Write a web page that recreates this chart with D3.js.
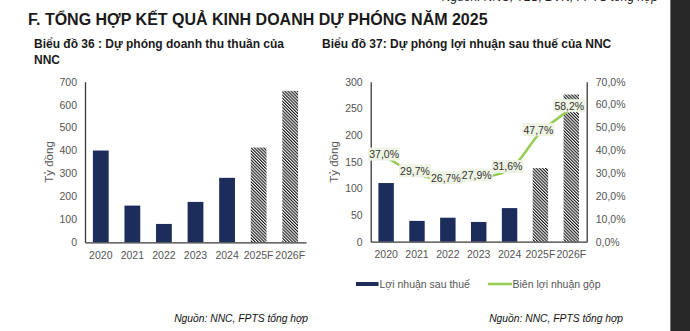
<!DOCTYPE html>
<html>
<head>
<meta charset="utf-8">
<script src="https://cdn.jsdelivr.net/npm/d3@7"></script>
<style>
  html, body { margin: 0; padding: 0; background: #fff; }
  svg { display: block; font-family: "Liberation Sans", Arial, sans-serif; }
</style>
</head>
<body>
<svg id="page" width="690" height="331"></svg>
<script>
// years shared by both charts
const years = ['2020', '2021', '2022', '2023', '2024', '2025F', '2026F'];
const forecastYears = ['2025F', '2026F'];

// Biểu đồ 36 – doanh thu thuần (tỷ đồng)
const revenue = [400, 160, 80, 176, 281, 413, 660];
const revenueTicks = [0, 100, 200, 300, 400, 500, 600, 700];

// Biểu đồ 37 – lợi nhuận sau thuế (tỷ đồng) and biên lợi nhuận gộp (%)
const netProfit = [110, 39, 45, 37, 63, 138, 276];
const grossMargin = [37.0, 29.7, 26.7, 27.9, 31.6, 47.7, 58.2];
const profitTicks = [0, 50, 100, 150, 200, 250, 300];
const marginTicks = [0, 10, 20, 30, 40, 50, 60, 70];

const navy = '#1c2d5c';
const green = '#98cd58';
const axisColor = '#3a3a3a';
const labelColor = '#555';

const svg = d3.select('#page');
const fmt = v => v.toFixed(1).replace('.', ',') + '%';

// hatch for forecast bars (\\\ stripes)
const defs = svg.append('defs');
const hatch = defs.append('pattern')
    .attr('id', 'hatch')
    .attr('patternUnits', 'userSpaceOnUse')
    .attr('width', 2.2)
    .attr('height', 2.2)
    .attr('patternTransform', 'rotate(-45)');
hatch.append('rect').attr('width', 2.2).attr('height', 2.2).attr('fill', '#fff');
hatch.append('rect').attr('x', 0).attr('width', 1.1).attr('height', 2.2).attr('fill', '#111');

// cut-off source line from previous section
svg.append('text')
    .attr('x', 442).attr('y', 1)
    .attr('font-size', 12).attr('font-style', 'italic').attr('fill', '#222')
    .text('Nguồn: NNC, TLS, BVN, FPTS tổng hợp');

// section heading
svg.append('text')
    .attr('x', 28).attr('y', 25)
    .attr('font-size', 16).attr('font-weight', 'bold').attr('fill', '#1a1a1a')
    .text('F. TỔNG HỢP KẾT QUẢ KINH DOANH DỰ PHÓNG NĂM 2025');

// chart titles
const title36 = svg.append('text')
    .attr('font-size', 12).attr('font-weight', 'bold').attr('fill', '#1a1a1a');
title36.append('tspan').attr('x', 34).attr('y', 48).text('Biểu đồ 36 : Dự phóng doanh thu thuần của');
title36.append('tspan').attr('x', 34).attr('y', 64).text('NNC');

svg.append('text')
    .attr('x', 322).attr('y', 48)
    .attr('font-size', 12).attr('font-weight', 'bold').attr('fill', '#1a1a1a')
    .text('Biểu đồ 37: Dự phóng lợi nhuận sau thuế của NNC');

function styleAxis(g) {
    g.selectAll('.domain').attr('stroke', axisColor).attr('stroke-width', 1.3);
    g.selectAll('text').attr('fill', labelColor).attr('font-size', 10.5)
        .attr('font-family', '"Liberation Sans", Arial, sans-serif');
}

function drawBars(g, x, y, values) {
    g.selectAll('.bar')
        .data(years.map((yr, i) => ({ yr, v: values[i] })))
        .enter()
        .append('rect')
        .attr('class', 'bar')
        .attr('x', d => x(d.yr))
        .attr('width', x.bandwidth())
        .attr('y', d => y(d.v))
        .attr('height', d => y(0) - y(d.v))
        .attr('fill', d => forecastYears.includes(d.yr) ? 'url(#hatch)' : navy);
}

function yTitle(cx, cy) {
    svg.append('text')
        .attr('transform', `translate(${cx},${cy}) rotate(-90)`)
        .attr('text-anchor', 'middle')
        .attr('dominant-baseline', 'middle')
        .attr('font-size', 11.5).attr('fill', labelColor)
        .text('Tỷ đồng');
}

// ---- Biểu đồ 36 ----
{
    const x = d3.scaleBand().domain(years).range([85, 306]).paddingInner(0.5).paddingOuter(0.25);
    const y = d3.scaleLinear().domain([0, 700]).range([242.3, 81.7]);
    const g = svg.append('g');

    drawBars(g, x, y, revenue);

    g.append('g').attr('transform', `translate(85,0)`)
        .call(d3.axisLeft(y).tickValues(revenueTicks).tickSize(0).tickPadding(8))
        .call(styleAxis);
    g.append('g').attr('transform', `translate(0,${y(0)})`)
        .call(d3.axisBottom(x).tickSize(0).tickPadding(9))
        .call(styleAxis);

    yTitle(50, 162);

    svg.append('text')
        .attr('x', 308).attr('y', 322).attr('text-anchor', 'end')
        .attr('font-size', 10.3).attr('font-style', 'italic').attr('fill', '#111')
        .text('Nguồn: NNC, FPTS tổng hợp');
}

// ---- Biểu đồ 37 ----
{
    const x = d3.scaleBand().domain(years).range([370.7, 586.7]).paddingInner(0.5).paddingOuter(0.25);
    const y = d3.scaleLinear().domain([0, 300]).range([241.7, 81.7]);
    const y2 = d3.scaleLinear().domain([0, 70]).range([241.7, 81.7]);
    const g = svg.append('g');

    drawBars(g, x, y, netProfit);

    g.append('g').attr('transform', `translate(370.7,0)`)
        .call(d3.axisLeft(y).tickValues(profitTicks).tickSize(0).tickPadding(8))
        .call(styleAxis);
    g.append('g').attr('transform', `translate(586.7,0)`)
        .call(d3.axisRight(y2).tickValues(marginTicks).tickSize(0).tickPadding(9).tickFormat(fmt))
        .call(styleAxis);
    g.append('g').attr('transform', `translate(0,${y(0)})`)
        .call(d3.axisBottom(x).tickSize(0).tickPadding(9))
        .call(styleAxis);

    yTitle(335, 162);

    // gross margin line
    const pts = years.map((yr, i) => ({ x: x(yr) + x.bandwidth() / 2, y: y2(grossMargin[i]), v: grossMargin[i] }));
    const line = d3.line().x(d => d.x).y(d => d.y).curve(d3.curveCatmullRom.alpha(0.5));
    g.append('path')
        .attr('d', line(pts))
        .attr('fill', 'none')
        .attr('stroke', green)
        .attr('stroke-width', 2.6);

    // value labels on pale boxes
    const labels = g.selectAll('.mlabel')
        .data(pts)
        .enter()
        .append('g')
        .attr('class', 'mlabel')
        .attr('transform', d => `translate(${d.x - 2},${d.y - 3})`);
    labels.append('rect')
        .attr('x', -16).attr('y', -6.5)
        .attr('width', 32).attr('height', 13)
        .attr('fill', '#eef3e3');
    labels.append('text')
        .attr('text-anchor', 'middle')
        .attr('dominant-baseline', 'central')
        .attr('font-size', 10.5).attr('fill', '#333')
        .text(d => fmt(d.v));

    // legend
    const lg = svg.append('g').attr('transform', 'translate(356,284)');
    lg.append('rect').attr('x', 0).attr('y', -2).attr('width', 22.5).attr('height', 4).attr('fill', navy);
    lg.append('text').attr('x', 23.5).attr('y', 0).attr('dominant-baseline', 'central')
        .attr('font-size', 10.5).attr('fill', labelColor).text('Lợi nhuận sau thuế');
    lg.append('line').attr('x1', 132).attr('x2', 156).attr('y1', 0).attr('y2', 0)
        .attr('stroke', green).attr('stroke-width', 2.6);
    lg.append('text').attr('x', 156.5).attr('y', 0).attr('dominant-baseline', 'central')
        .attr('font-size', 10.5).attr('fill', labelColor).text('Biên lợi nhuận gộp');

    svg.append('text')
        .attr('x', 623).attr('y', 322).attr('text-anchor', 'end')
        .attr('font-size', 10.3).attr('font-style', 'italic').attr('fill', '#111')
        .text('Nguồn: NNC, FPTS tổng hợp');
}

// dark viewer edge on the right
svg.append('rect').attr('x', 671).attr('y', 0).attr('width', 19).attr('height', 331).attr('fill', '#282828');
svg.append('line').attr('x1', 670.5).attr('x2', 670.5).attr('y1', 0).attr('y2', 331)
    .attr('stroke', '#7a7a7a').attr('stroke-width', 1);
</script>
</body>
</html>
